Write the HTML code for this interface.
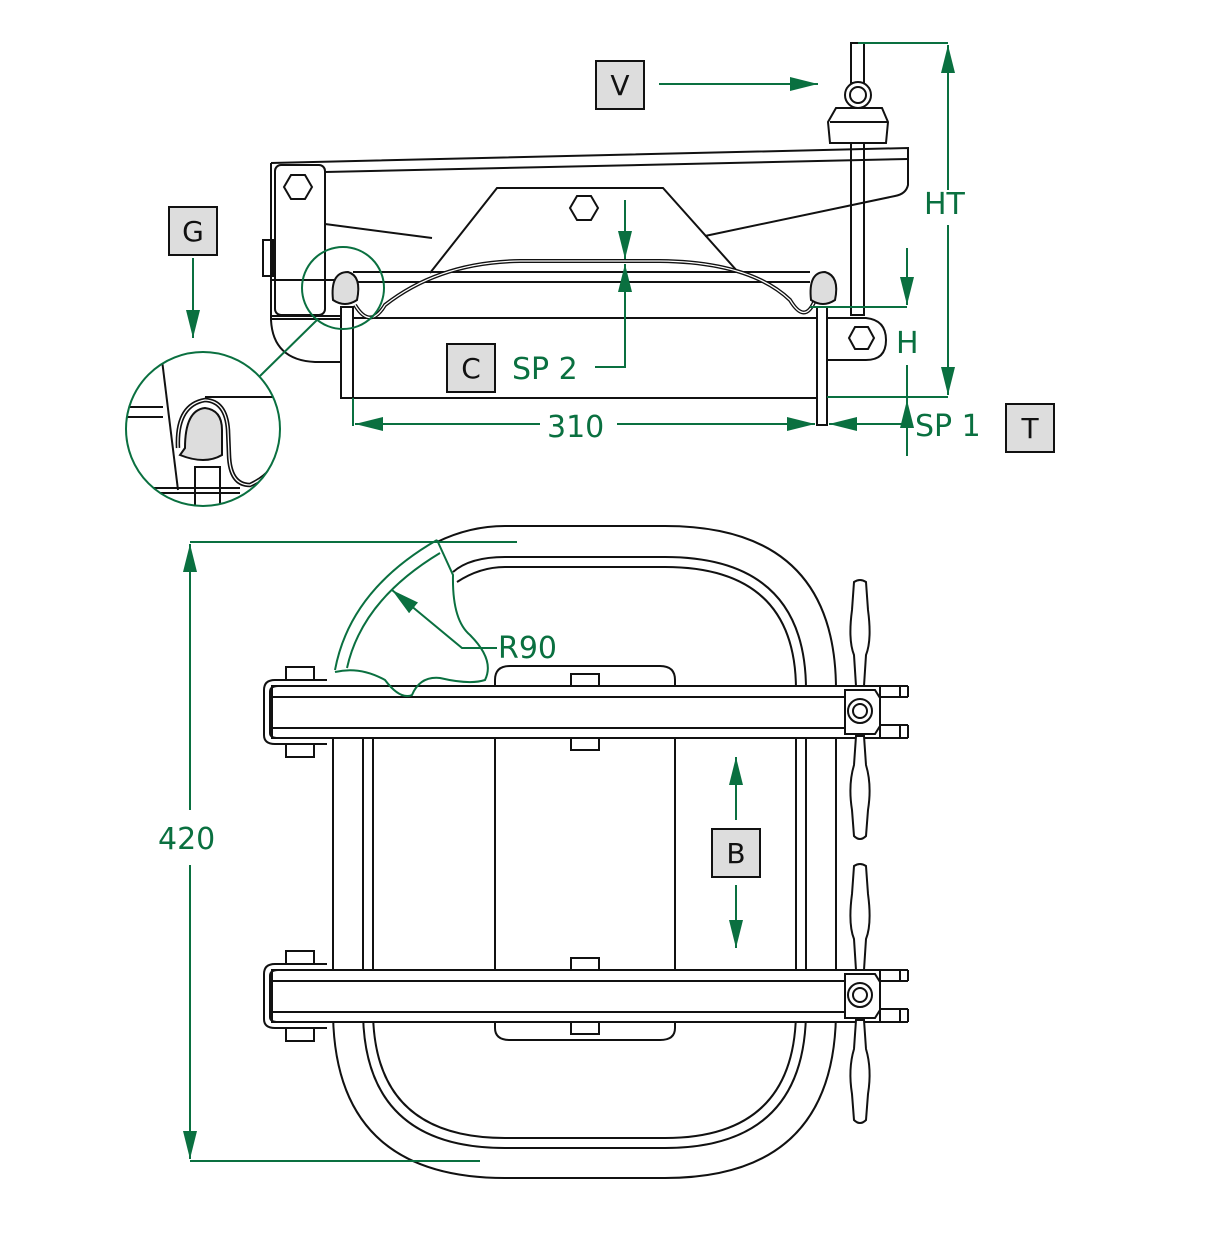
<!DOCTYPE html>
<html><head><meta charset="utf-8"><style>
html,body{margin:0;padding:0;background:#fff}
svg{display:block}
text{font-family:"DejaVu Sans","Liberation Sans",sans-serif}
</style></head><body>
<svg width="1215" height="1238" viewBox="0 0 1215 1238" xmlns="http://www.w3.org/2000/svg">
<defs>
<marker id="b" viewBox="0 0 10 10" refX="10" refY="5" markerWidth="28" markerHeight="14" markerUnits="userSpaceOnUse" orient="auto-start-reverse" preserveAspectRatio="none"><path d="M0,0 L10,5 L0,10 z" fill="#0a7040"/></marker>
<clipPath id="dc"><circle cx="203" cy="429" r="77"/></clipPath>
</defs>
<g fill="none" stroke="#111" stroke-width="2">
<rect x="851" y="43" width="13" height="40" fill="#fff"/>
<rect x="851" y="110" width="13" height="205" fill="#fff"/>
<path d="M836,108 L882,108 L888,122 L886,143 L830,143 L828,122 Z" fill="#fff"/>
<line x1="830" y1="122" x2="888" y2="122"/>
<circle cx="858" cy="95" r="13" fill="#fff"/><circle cx="858" cy="95" r="8"/>
<path d="M271,163 L908,148 L908,185 Q906,194 895,196 L705,236"/>
<line x1="325" y1="172" x2="908" y2="159"/>
<path d="M325,224 L432,238"/>
<path d="M271,163 L271,320 Q273,360 315,362 L341,362"/>
<rect x="275" y="165" width="50" height="150" rx="6"/>
<rect x="263" y="240" width="10" height="36"/>
<line x1="271" y1="280" x2="340" y2="280"/>
<line x1="271" y1="316" x2="341" y2="316"/>
<line x1="271" y1="319" x2="341" y2="319"/>
<path d="M430,273 L497,188 L663,188 L738,272"/>
<path d="M291,175 l14,0 l7,12 l-7,12 l-14,0 l-7,-12z"/>
<path d="M577,196 l14,0 l7,12 l-7,12 l-14,0 l-7,-12z"/>
<rect x="341" y="318" width="486" height="80"/>
<rect x="341" y="307" width="12" height="91" fill="#fff"/>
<rect x="817" y="307" width="10" height="118" fill="#fff"/>
<path d="M353,272 L810,272"/>
<path d="M353,282 L810,282"/>
<path d="M355,305 Q370,330 385,305 Q440,262 520,261 L660,261 Q750,262 790,300 Q805,325 815,300" stroke-width="4"/>
<path d="M355,305 Q370,330 385,305 Q440,262 520,261 L660,261 Q750,262 790,300 Q805,325 815,300" stroke="#fff" stroke-width="1.3"/>
<path d="M333,300 Q330,272 348,272 Q362,276 357,300 Q345,308 333,300Z" fill="#ddd"/>
<path d="M811,300 Q808,272 825,272 Q840,276 835,300 Q823,308 811,300Z" fill="#ddd"/>
<path d="M827,318 L866,318 Q886,320 886,340 Q886,360 866,360 L827,360"/>
<path d="M855,327 l13,0 l6,11 l-6,11 l-13,0 l-6,-11z"/>
</g>
<g clip-path="url(#dc)" stroke="#111" stroke-width="2" fill="none">
<line x1="120" y1="407" x2="163" y2="407"/><line x1="120" y1="417" x2="163" y2="417"/>
<path d="M162,360 L178,490"/>
<line x1="150" y1="488" x2="240" y2="488"/><line x1="150" y1="493" x2="240" y2="493"/>
<line x1="205" y1="397" x2="280" y2="397"/>
<rect x="195" y="467" width="25" height="50"/>
<path d="M178,448 Q176,405 205,400 Q226,401 228,430 L229,455 Q230,485 250,485 Q265,478 270,470" stroke-width="4.5"/>
<path d="M178,448 Q176,405 205,400 Q226,401 228,430 L229,455 Q230,485 250,485 Q265,478 270,470" stroke="#fff" stroke-width="1.3"/>
<path d="M185,448 Q185,410 205,408 Q222,410 222,430 L222,455 Q205,465 180,455 Z" fill="#ddd"/>
</g>
<g fill="none" stroke="#111" stroke-width="2">
<path d="M437,542 Q470,526 505,526 L665,526 Q836,526 836,690 L836,1010 Q836,1178 665,1178 L505,1178 Q333,1178 333,1010 L333,690"/>
<path d="M453,572 Q470,557 505,557 L665,557 Q806,557 806,690 L806,1010 Q806,1148 665,1148 L505,1148 Q363,1148 363,1010 L363,690"/>
<path d="M457,582 Q480,567 505,567 L665,567 Q796,567 796,690 L796,1010 Q796,1138 665,1138 L505,1138 Q373,1138 373,1010 L373,690"/>
<path d="M495,686 L495,680 Q495,666 510,666 L660,666 Q675,666 675,680 L675,686"/>
<path d="M495,1022 L495,1028 Q495,1040 510,1040 L660,1040 Q675,1040 675,1028 L675,1022"/>
<line x1="495" y1="738" x2="495" y2="970"/><line x1="675" y1="738" x2="675" y2="970"/>
<line x1="333" y1="738" x2="333" y2="970"/><line x1="363" y1="738" x2="363" y2="970"/><line x1="373" y1="738" x2="373" y2="970"/>
<line x1="836" y1="738" x2="836" y2="970"/><line x1="806" y1="738" x2="806" y2="970"/><line x1="796" y1="738" x2="796" y2="970"/>
</g>
<g id="bar" fill="none" stroke="#111" stroke-width="2">
<rect x="272" y="686" width="608" height="52" fill="#fff"/>
<line x1="272" y1="697" x2="845" y2="697"/><line x1="272" y1="728" x2="845" y2="728"/>
<path d="M327,680 L275,680 Q264,680 264,690 L264,735 Q264,744 275,744 L327,744"/>
<path d="M327,686 L278,686 Q270,686 270,692 L270,733 Q270,738 278,738 L327,738"/>
<rect x="286" y="667" width="28" height="13"/><rect x="286" y="744" width="28" height="13"/>
<rect x="571" y="674" width="28" height="12"/><rect x="571" y="738" width="28" height="12"/>
<line x1="880" y1="686" x2="908" y2="686"/><line x1="880" y1="697" x2="908" y2="697"/><line x1="908" y1="686" x2="908" y2="697"/><line x1="900" y1="686" x2="900" y2="697"/>
<line x1="880" y1="725" x2="908" y2="725"/><line x1="880" y1="738" x2="908" y2="738"/><line x1="908" y1="725" x2="908" y2="738"/><line x1="900" y1="725" x2="900" y2="738"/>
<path d="M845,690 L875,690 L880,698 L880,726 L875,734 L845,734 Z" fill="#fff"/>
<circle cx="860" cy="711" r="12"/><circle cx="860" cy="711" r="7"/>
<path d="M854,582 Q860,578 866,582 L868,610 Q872,640 866,655 L864,686 L856,686 L854,655 Q848,640 852,610 Z" fill="#fff"/>
<path d="M856,736 L864,736 L866,765 Q872,785 868,810 L866,836 Q860,842 854,836 L852,810 Q848,785 854,765 Z" fill="#fff"/>
</g>
<use href="#bar" transform="translate(0,284)"/>
<g stroke="#0a7040" stroke-width="2" fill="none">
<circle cx="343" cy="288" r="41"/>
<circle cx="203" cy="429" r="77"/>
<line x1="318" y1="319" x2="260" y2="376"/>
<line x1="858" y1="43" x2="948" y2="43"/>
<line x1="948" y1="45" x2="948" y2="190" marker-start="url(#b)"/>
<line x1="948" y1="225" x2="948" y2="395" marker-end="url(#b)"/>
<line x1="827" y1="397" x2="948" y2="397"/>
<line x1="810" y1="307" x2="907" y2="307"/>
<line x1="907" y1="248" x2="907" y2="305" marker-end="url(#b)"/>
<line x1="907" y1="365" x2="907" y2="456"/>
<line x1="907" y1="440" x2="907" y2="400" marker-end="url(#b)"/>
<line x1="907" y1="424" x2="829" y2="424" marker-end="url(#b)"/>
<line x1="540" y1="424" x2="355" y2="424" marker-end="url(#b)"/>
<line x1="617" y1="424" x2="815" y2="424" marker-end="url(#b)"/>
<line x1="353" y1="398" x2="353" y2="426"/>
<line x1="625" y1="200" x2="625" y2="259" marker-end="url(#b)"/>
<polyline points="595,367 625,367 625,264" marker-end="url(#b)"/>
<line x1="659" y1="84" x2="818" y2="84" marker-end="url(#b)"/>
<line x1="193" y1="258" x2="193" y2="338" marker-end="url(#b)"/>
<line x1="736" y1="820" x2="736" y2="757" marker-end="url(#b)"/>
<line x1="736" y1="885" x2="736" y2="948" marker-end="url(#b)"/>
<line x1="190" y1="542" x2="517" y2="542"/>
<line x1="190" y1="1161" x2="480" y2="1161"/>
<line x1="190" y1="810" x2="190" y2="544" marker-end="url(#b)"/>
<line x1="190" y1="865" x2="190" y2="1159" marker-end="url(#b)"/>
<path d="M335,670 Q350,590 437,540 M347,668 Q362,600 440,553"/>
<path d="M437,540 L453,575 Q452,620 470,635 Q495,660 485,680 Q470,685 440,678 Q420,676 412,695 Q400,700 385,680 Q360,666 335,672"/>
<polyline points="497,648 462,648 392,590" marker-end="url(#b)"/>
</g>
<g font-size="30" fill="#0a7040">
<text x="924" y="214">HT</text>
<text x="896" y="353">H</text>
<text x="915" y="436">SP 1</text>
<text x="547" y="437">310</text>
<text x="512" y="379">SP 2</text>
<text x="498" y="658">R90</text>
<text x="158" y="849">420</text>
</g>
<g fill="#ddd" stroke="#111" stroke-width="2">
<rect x="596" y="61" width="48" height="48"/>
<rect x="169" y="207" width="48" height="48"/>
<rect x="447" y="344" width="48" height="48"/>
<rect x="1006" y="404" width="48" height="48"/>
<rect x="712" y="829" width="48" height="48"/>
</g>
<g font-size="28" fill="#111" text-anchor="middle">
<text x="620" y="95">V</text>
<text x="193" y="241">G</text>
<text x="471" y="378">C</text>
<text x="1030" y="438">T</text>
<text x="736" y="863">B</text>
</g>
</svg>
</body></html>
